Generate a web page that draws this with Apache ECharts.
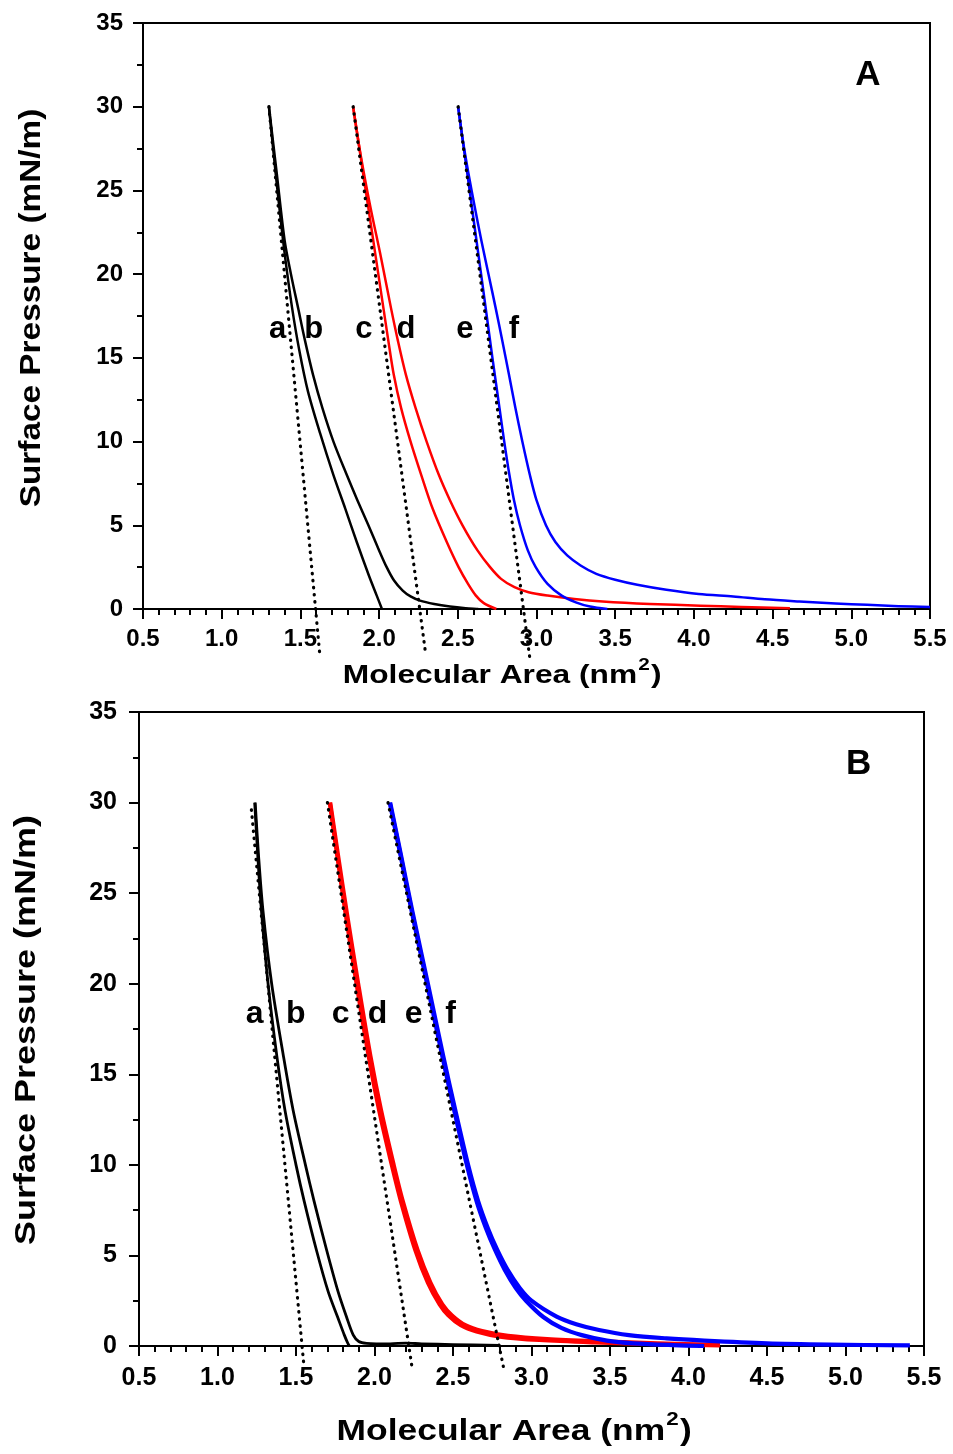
<!DOCTYPE html>
<html>
<head>
<meta charset="utf-8">
<script src="https://cdn.jsdelivr.net/npm/echarts@6/dist/echarts.min.js"></script>
<style>
html,body{margin:0;padding:0;background:#fff;}
#chart{width:953px;height:1454px;}
</style>
</head>
<body>
<div id="chart"></div>
<script>
// ---------- DATA ----------
// Panel A : [molecular area (nm^2), surface pressure (mN/m)]
const A_a = [[1.300,30],[1.332,27],[1.366,24],[1.403,21],[1.447,18],[1.492,15.5],[1.548,13],[1.625,10.5],[1.710,8],[1.785,6],[1.858,4],[1.935,2],[1.985,0.8],[2.018,0]];
const A_b = [[1.300,30],[1.350,26],[1.400,22],[1.440,20],[1.485,18],[1.530,16],[1.580,14],[1.640,12],[1.710,10],[1.795,8],[1.862,6.5],[1.932,5],[2.000,3.5],[2.048,2.5],[2.095,1.7],[2.150,1.1],[2.200,0.75],[2.260,0.5],[2.350,0.3],[2.450,0.15],[2.550,0.05],[2.630,0]];
const A_c = [[1.835,30],[1.883,27],[1.931,24],[1.979,21],[2.027,18],[2.059,16],[2.093,14],[2.140,12],[2.200,10],[2.268,8],[2.340,6],[2.430,4],[2.505,2.5],[2.565,1.5],[2.615,0.8],[2.665,0.35],[2.745,0]];
const A_d = [[1.835,30],[1.885,27],[1.945,24],[2.012,21],[2.075,18],[2.120,16],[2.170,14],[2.232,12],[2.302,10],[2.380,8],[2.450,6.5],[2.530,5],[2.625,3.5],[2.705,2.5],[2.775,1.8],[2.860,1.3],[2.950,1.0],[3.070,0.8],[3.240,0.6],[3.420,0.45],[3.720,0.3],[4.040,0.2],[4.300,0.12],[4.610,0.05]];
const A_e = [[2.502,30],[2.575,25],[2.648,20],[2.720,15],[2.765,12],[2.795,10],[2.828,8],[2.857,6.5],[2.895,5],[2.945,3.5],[2.995,2.5],[3.070,1.5],[3.160,0.8],[3.250,0.4],[3.340,0.15],[3.450,0]];
const A_f = [[2.502,30],[2.532,28],[2.568,26],[2.608,24],[2.650,22],[2.695,20],[2.740,18],[2.783,16],[2.825,14],[2.866,12],[2.910,10],[2.958,8],[3.000,6.5],[3.060,5],[3.120,4],[3.195,3.2],[3.280,2.6],[3.380,2.1],[3.500,1.75],[3.640,1.45],[3.825,1.15],[4.030,0.9],[4.250,0.75],[4.450,0.58],[4.670,0.45],[4.900,0.33],[5.100,0.25],[5.300,0.17],[5.500,0.12]];
const A_dot1 = [[1.300,30],[1.623,-2.7]];
const A_dot2 = [[1.835,30],[2.296,-2.7]];
const A_dot3 = [[2.502,30],[2.957,-2.9]];

// Panel B
const B_a = [[1.237,30],[1.257,27],[1.280,24],[1.322,20],[1.378,16],[1.430,13],[1.500,10],[1.552,8],[1.630,5.3],[1.705,3],[1.765,1.6],[1.808,0.6],[1.830,0.15],[1.840,0]];
const B_b = [[1.240,30],[1.262,27],[1.290,24],[1.345,20],[1.420,16],[1.482,13],[1.560,10],[1.615,8],[1.695,5.3],[1.768,3],[1.822,1.6],[1.865,0.6],[1.900,0.25],[1.950,0.15],[2.100,0.12],[2.200,0.16],[2.300,0.12],[2.500,0.08],[2.800,0.04]];
const B_c = [[1.715,30],[1.764,27],[1.814,24],[1.886,20],[1.963,16],[2.030,13],[2.110,10],[2.168,8],[2.260,5.3],[2.340,3.5],[2.415,2.3],[2.470,1.7],[2.550,1.15],[2.650,0.8],[2.800,0.52],[3.050,0.33],[3.400,0.2],[3.800,0.1],[4.200,0.03]];
const B_d = [[1.718,30],[1.769,27],[1.822,24],[1.896,20],[1.974,16],[2.042,13],[2.122,10],[2.180,8],[2.274,5.3],[2.356,3.5],[2.432,2.3],[2.492,1.7],[2.578,1.15],[2.685,0.82],[2.850,0.56],[3.100,0.38],[3.450,0.25],[3.800,0.15],[4.200,0.06]];
const B_e = [[2.097,30],[2.168,27],[2.237,24],[2.335,20],[2.432,16],[2.508,13],[2.588,10],[2.650,8],[2.710,6.5],[2.768,5.3],[2.830,4.2],[2.900,3.2],[2.965,2.5],[3.075,1.6],[3.190,1.0],[3.320,0.6],[3.480,0.3],[3.650,0.15],[3.900,0.05],[4.100,0]];
const B_f = [[2.100,30],[2.171,27],[2.241,24],[2.340,20],[2.438,16],[2.515,13],[2.596,10],[2.660,8],[2.722,6.5],[2.782,5.3],[2.848,4.2],[2.925,3.2],[3.000,2.5],[3.160,1.62],[3.285,1.2],[3.430,0.88],[3.620,0.6],[3.860,0.42],[4.100,0.3],[4.500,0.15],[4.900,0.08],[5.410,0.03]];
const B_dot1 = [[1.216,29.6],[1.549,-0.96]];
const B_dot2 = [[1.700,30],[2.239,-1.18]];
const B_dot3 = [[2.086,30],[2.825,-1.32]];

// curve labels [text, area, pressure]
const labelsA = [['a',1.356,16.7],['b',1.585,16.7],['c',1.903,16.7],['d',2.170,16.7],['e',2.545,16.7],['f',2.856,16.7]];
const labelsB = [['a',1.237,18.3],['b',1.498,18.3],['c',1.784,18.3],['d',2.020,18.3],['e',2.249,18.3],['f',2.485,18.3]];
const panelTags = [['A',5.105,31.9],['B',5.084,32.1]];

// axes
const xMin = 0.5, xMax = 5.5, xStep = 0.5;
const yMin = 0, yMax = 35, yStep = 5;
const xTitle = ['Molecular Area (nm', '2', ')'];
const yTitle = 'Surface Pressure (mN/m)';

// ---------- CHART ----------
const FF = '"Liberation Sans", Arial, Helvetica, sans-serif';
const BLACK = '#000000', RED = '#ff0000', BLUE = '#0000ff';

function mkX(gi, fs, margin) {
  return {
    type: 'value', gridIndex: gi, min: xMin, max: xMax, interval: xStep,
    axisLine: {show: true, onZero: false, lineStyle: {color: BLACK, width: 2}},
    axisTick: {show: true, inside: false, length: 10, lineStyle: {color: BLACK, width: 2}},
    minorTick: {show: true, splitNumber: 5, length: 6, lineStyle: {color: BLACK, width: 2}},
    splitLine: {show: false}, minorSplitLine: {show: false},
    axisLabel: {show: true, margin: margin, color: BLACK, fontSize: fs, fontWeight: 'bold', fontFamily: FF,
      showMinLabel: true, showMaxLabel: true, hideOverlap: false,
      formatter: v => v.toFixed(1)}
  };
}
function mkY(gi, fs, margin) {
  return {
    type: 'value', gridIndex: gi, min: yMin, max: yMax, interval: yStep,
    axisLine: {show: true, onZero: false, lineStyle: {color: BLACK, width: 2}},
    axisTick: {show: true, inside: false, length: 10, lineStyle: {color: BLACK, width: 2}},
    minorTick: {show: true, splitNumber: 2, length: 6, lineStyle: {color: BLACK, width: 2}},
    splitLine: {show: false}, minorSplitLine: {show: false},
    axisLabel: {show: true, margin: margin, color: BLACK, fontSize: fs, fontWeight: 'bold', fontFamily: FF,
      showMinLabel: true, showMaxLabel: true, formatter: v => String(v)}
  };
}
function curve(gi, data, color, width) {
  return {type: 'line', xAxisIndex: gi, yAxisIndex: gi, data: data, showSymbol: false, symbol: 'none',
    smooth: 0.3, lineStyle: {color: color, width: width, join: 'round'}, silent: true, z: 3};
}
function dotted(gi, data, width) {
  return {type: 'line', xAxisIndex: gi, yAxisIndex: gi, data: data, showSymbol: false, symbol: 'none',
    clip: false, lineStyle: {color: BLACK, width: width, type: [0.5, 6.6], cap: 'round'}, silent: true, z: 5};
}
function textSeries(gi, items, fs) {
  return {type: 'scatter', xAxisIndex: gi, yAxisIndex: gi, silent: true, z: 6,
    symbolSize: 1, itemStyle: {color: 'rgba(0,0,0,0)', opacity: 1},
    data: items.map(l => ({name: l[0], value: [l[1], l[2]]})),
    label: {show: true, position: 'inside', formatter: '{b}', color: BLACK, opacity: 1, fontSize: fs, fontWeight: 'bold', fontFamily: FF}};
}

const mctx = document.createElement('canvas').getContext('2d');
function tw(t, fs) { mctx.font = 'bold ' + fs + 'px ' + FF; return mctx.measureText(t).width; }

function xTitleGraphic(cx, cy, fs, supFs, raise, scale) {
  const w1 = tw(xTitle[0], fs), w2 = tw(xTitle[1], supFs), w3 = tw(xTitle[2], fs);
  const start = -(w1 + w2 + w3) / 2;
  const mk = (t, x, y, size) => ({type: 'text', x: x, y: y,
    style: {text: t, fill: BLACK, font: 'bold ' + size + 'px ' + FF, textAlign: 'left', textVerticalAlign: 'middle', align: 'left', verticalAlign: 'middle'}});
  return {type: 'group', x: cx, y: cy, scaleX: scale, silent: true,
    children: [mk(xTitle[0], start, 0, fs), mk(xTitle[1], start + w1 + 1, -raise, supFs), mk(xTitle[2], start + w1 + w2 + 2, 0, fs)]};
}
function yTitleGraphic(cx, cy, fs, scale) {
  return {type: 'text', x: cx, y: cy, rotation: Math.PI / 2, scaleX: scale, silent: true,
    style: {text: yTitle, fill: BLACK, font: 'bold ' + fs + 'px ' + FF, textAlign: 'center', textVerticalAlign: 'middle', align: 'center', verticalAlign: 'middle'}};
}

const chart = echarts.init(document.getElementById('chart'), null, {renderer: 'canvas', width: 953, height: 1454});
chart.setOption({
  animation: false,
  backgroundColor: '#ffffff',
  grid: [
    {left: 143, top: 23, width: 787, height: 586, show: true, borderColor: BLACK, borderWidth: 2, backgroundColor: 'rgba(0,0,0,0)'},
    {left: 139, top: 712, width: 785, height: 634, show: true, borderColor: BLACK, borderWidth: 2, backgroundColor: 'rgba(0,0,0,0)'}
  ],
  xAxis: [mkX(0, 24, 18), mkX(1, 25, 20)],
  yAxis: [mkY(0, 24, 20), mkY(1, 25, 22)],
  series: [
    curve(0, A_a, BLACK, 2.5), curve(0, A_b, BLACK, 2.5),
    curve(0, A_c, RED, 2.5), curve(0, A_d, RED, 2.5),
    curve(0, A_e, BLUE, 2.5), curve(0, A_f, BLUE, 2.5),
    dotted(0, A_dot1, 3.2), dotted(0, A_dot2, 3.2), dotted(0, A_dot3, 3.2),
    curve(1, B_a, BLACK, 2.8), curve(1, B_b, BLACK, 2.8),
    curve(1, B_c, RED, 4.2), curve(1, B_d, RED, 4.2),
    curve(1, B_e, BLUE, 4.2), curve(1, B_f, BLUE, 4.2),
    dotted(1, B_dot1, 3.2), dotted(1, B_dot2, 3.2), dotted(1, B_dot3, 3.2),
    textSeries(0, labelsA, 31), textSeries(1, labelsB, 32),
    textSeries(0, [panelTags[0]], 35), textSeries(1, [panelTags[1]], 35)
  ],
  graphic: [
    xTitleGraphic(501, 676, 26, 17, 11, 1.22),
    xTitleGraphic(513, 1432, 30, 19, 12, 1.18),
    yTitleGraphic(32, 308, 29, 1.15),
    yTitleGraphic(27, 1030, 30, 1.2)
  ]
});
</script>
</body>
</html>
